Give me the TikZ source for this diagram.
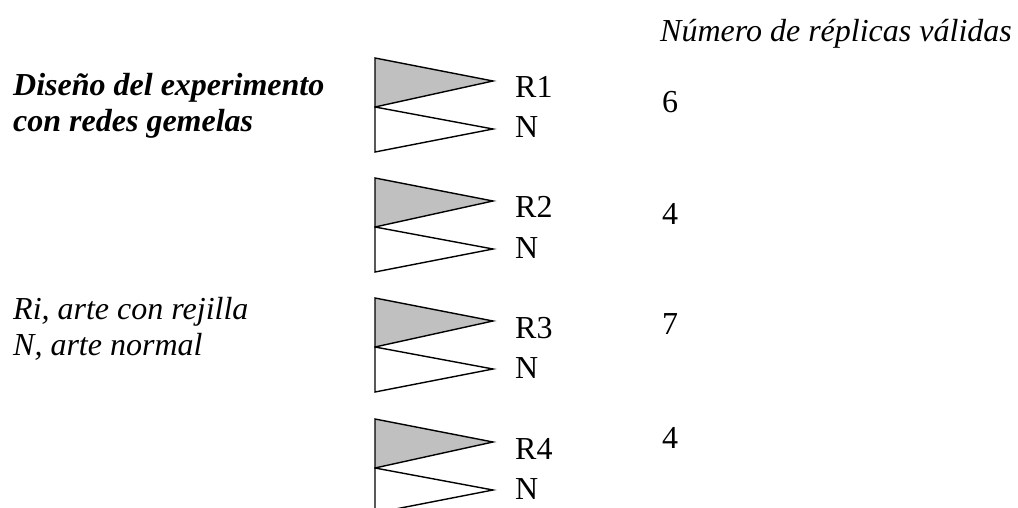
\documentclass[tikz,border=0pt]{standalone}
\usepackage{fontspec}
\setmainfont{Liberation Serif}
\definecolor{netgray}{RGB}{192,192,192}

\begin{document}
\begin{tikzpicture}[x=1pt,y=-1pt,
    txt/.style={anchor=base west,inner sep=0pt,font=\fontsize{32}{37}\selectfont},
    ital/.style={txt,font=\fontsize{32}{37}\selectfont\itshape},
    negr/.style={txt,font=\fontsize{32}{37}\selectfont\bfseries\itshape},
    red/.style={draw=black,line width=1.4pt}]
    \useasboundingbox (0,0) rectangle (1018,508);

    % textos
    \node[ital] (titulo) at (660,42) {Número de réplicas válidas};
    \node[negr] (diseno) at (13,96) {Diseño del experimento};
    \node[negr] (gemelas) at (13,132) {con redes gemelas};
    \node[ital] (leyR) at (13,319) {Ri, arte con rejilla};
    \node[ital] (leyN) at (13,355) {N, arte normal};

    % redes gemelas
    \foreach \i/\ty/\num/\nb in {1/58/6/113,2/178/4/224,3/298/7/334,4/419/4/448}{
        \filldraw[red,fill=netgray] (375,\ty) -- (493,\ty+23) -- (375,\ty+49) -- cycle;
        \draw[red] (375,\ty+49) -- (493,\ty+71) -- (375,\ty+94) -- cycle;
        \node[txt] (r\i) at (515,\ty+40) {R\i};
        \node[txt] (n\i) at (515,\ty+80) {N};
        \node[txt] (num\i) at (662,\nb) {\num};
    }
\end{tikzpicture}
\end{document}
